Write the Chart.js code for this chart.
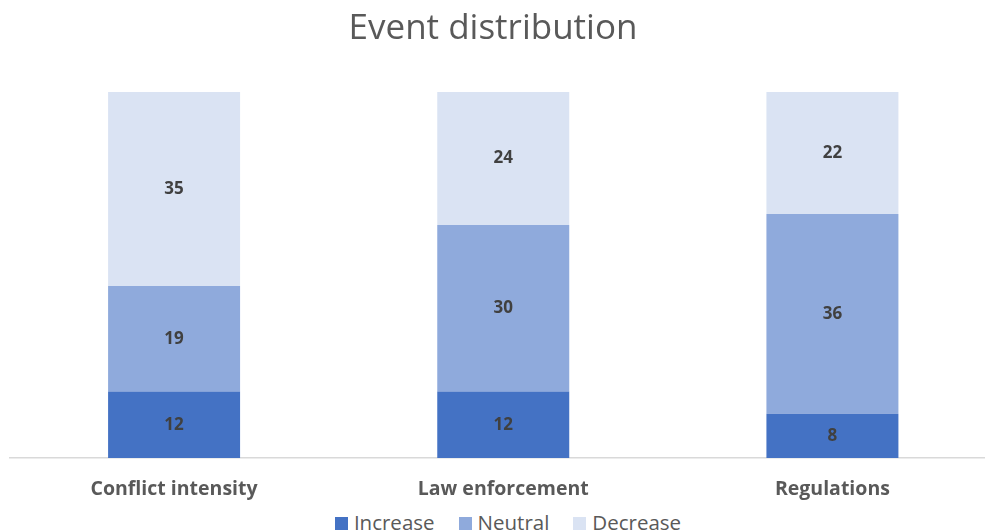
<!DOCTYPE html>
<html>
<head>
<meta charset="utf-8">
<script src="https://cdn.jsdelivr.net/npm/chart.js@4.4.1/dist/chart.umd.min.js"></script>
<style>
  html, body { margin: 0; padding: 0; overflow: hidden; background: #fff; width: 985px; height: 531px; }
  #wrap { position: absolute; top: 0; left: -11px; width: 1008px; height: 501px; }
  #legend { position: absolute; top: 512px; left: 0; width: 1016px; text-align: center;
            font-family: 'Open Sans', sans-serif; font-size: 20.5px; line-height: 20px; color: #595959; white-space: nowrap; }
  #legend span.item { display: inline-block; margin: 0 12px; }
  #legend span.box { display: inline-block; width: 13px; height: 13px; margin-right: 6px; vertical-align: baseline; }
</style>
</head>
<body>
<div id="wrap"><canvas id="myChart"></canvas></div>
<div id="legend"></div>
<script>
var categories = ["Conflict intensity", "Law enforcement", "Regulations"]
var increase = [12, 12, 8]
var neutral = [19, 30, 36]
var decrease = [35, 24, 22]

var fontFamily = "'Open Sans', 'Liberation Sans', sans-serif"

// draws the number in the middle of each bar segment
var barLabels = {
    id: 'barLabels',
    afterDatasetsDraw: function(chart) {
        var ctx = chart.ctx
        ctx.save()
        ctx.font = "bold 17px " + fontFamily
        ctx.fillStyle = "#404040"
        ctx.textAlign = "center"
        ctx.textBaseline = "middle"
        chart.data.datasets.forEach(function(ds, i) {
            chart.getDatasetMeta(i).data.forEach(function(bar, j) {
                var mid = (bar.y + bar.base) / 2
                ctx.fillText(ds.data[j], bar.x, mid)
            })
        })
        ctx.restore()
    }
}

// legend as html under the canvas, built from the chart's own legend items
var htmlLegend = {
    id: 'htmlLegend',
    afterUpdate: function(chart) {
        var box = document.getElementById("legend")
        box.innerHTML = ""
        var items = chart.options.plugins.legend.labels.generateLabels(chart)
        items.forEach(function(item) {
            var el = document.createElement("span")
            el.className = "item"
            var sw = document.createElement("span")
            sw.className = "box"
            sw.style.background = item.fillStyle
            el.appendChild(sw)
            el.appendChild(document.createTextNode(item.text))
            box.appendChild(el)
        })
    }
}

var myChart = document.getElementById("myChart").getContext('2d')

var chart = new Chart(myChart, {
    type: 'bar',
    data: {
        labels: categories,
        datasets: [
            { label: "Increase", data: increase, backgroundColor: "#4472C4" },
            { label: "Neutral", data: neutral, backgroundColor: "#8FAADC" },
            { label: "Decrease", data: decrease, backgroundColor: "#DAE3F3" }
        ]
    },
    options: {
        responsive: true,
        maintainAspectRatio: false,
        animation: false,
        layout: { padding: 0 },
        datasets: { bar: { categoryPercentage: 1, barPercentage: 0.401 } },
        scales: {
            x: {
                stacked: true,
                grid: { display: false, drawTicks: false },
                border: { display: true, color: "#D9D9D9", width: 1.5 },
                ticks: {
                    padding: 19.3,
                    color: "#595959",
                    font: { family: fontFamily, size: 19.5, weight: 'bold' }
                },
                afterFit: function(scale) { scale.height = 43 }
            },
            y: {
                stacked: true,
                min: 0,
                max: 66,
                grid: { display: false },
                border: { display: false },
                ticks: { display: false },
                afterFit: function(scale) { scale.width = 20.5 }
            }
        },
        plugins: {
            title: {
                display: true,
                text: "Event distribution",
                color: "#595959",
                font: { family: fontFamily, size: 35, weight: 'normal' },
                padding: { top: 8, bottom: 42 }
            },
            legend: { display: false },
            tooltip: { enabled: false }
        }
    },
    plugins: [barLabels, htmlLegend]
})
</script>
</body>
</html>
